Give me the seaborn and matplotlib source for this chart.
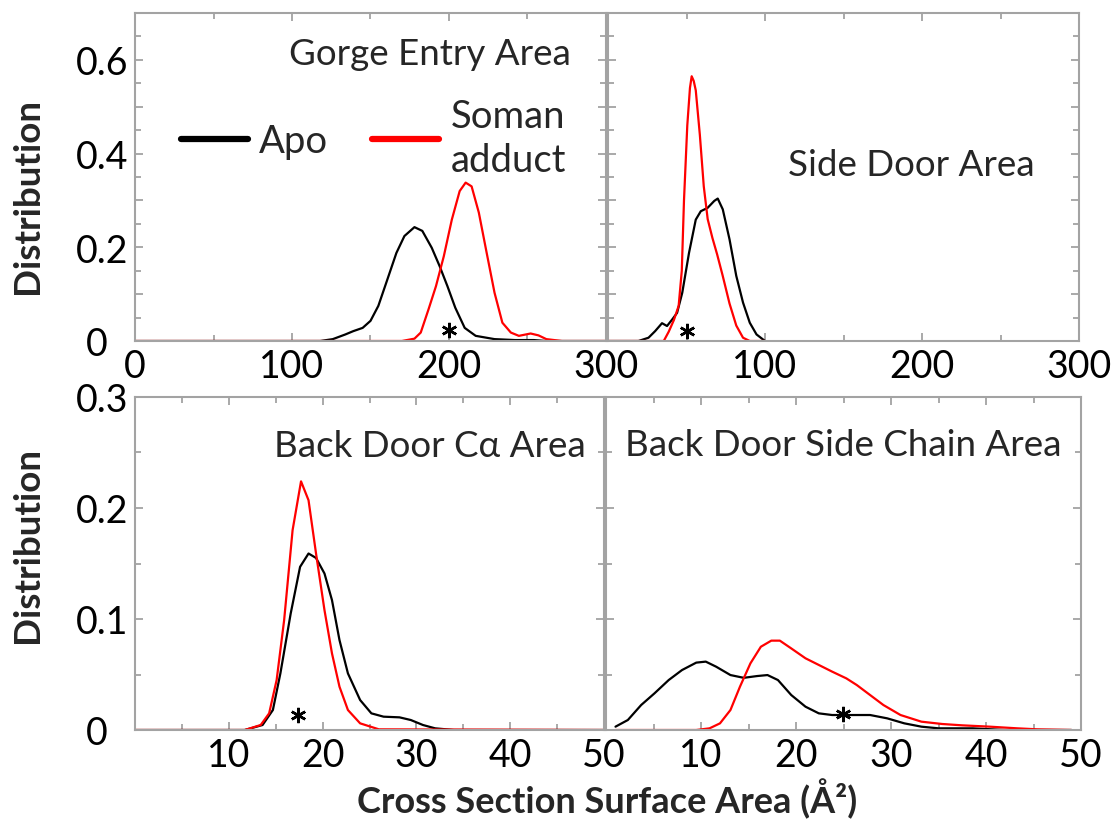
import matplotlib
matplotlib.use("Agg")
import matplotlib.pyplot as plt
from matplotlib.ticker import MultipleLocator, FuncFormatter
from matplotlib.transforms import ScaledTranslation
import numpy as np
import pandas as pd
import seaborn as sns

# ---- Gorge entry area (Å^2) ----
gorge_apo_x = [0, 118, 126, 134, 139, 145, 150, 155, 160, 166.5, 171.6, 178, 183, 189,
               194, 199, 204, 210, 217, 229, 242, 254, 262, 300]
gorge_apo_y = [0, 0, 0.004, 0.014, 0.021, 0.028, 0.043, 0.075, 0.124, 0.188, 0.224, 0.243,
               0.235, 0.199, 0.16, 0.117, 0.071, 0.028, 0.011, 0.004, 0.002, 0.002, 0, 0]
gorge_soman_x = [0, 170, 178, 182, 187, 191.7, 196.7, 201.8, 206.8, 210.6, 214.4, 219, 224,
                 229, 234, 239.4, 244.5, 252, 257, 262, 272, 300]
gorge_soman_y = [0, 0, 0.005, 0.018, 0.068, 0.117, 0.181, 0.259, 0.32, 0.338, 0.33, 0.274,
                 0.188, 0.103, 0.039, 0.018, 0.011, 0.016, 0.012, 0.004, 0, 0]

# ---- Side door area ----
side_apo_x = [0, 19.4, 25.8, 30, 34.4, 37.6, 40.9, 44, 47.3, 51.6, 55.9, 59.1, 63.4, 67.7,
              69.9, 73.1, 77.4, 81.7, 86, 90.3, 94.6, 100]
side_apo_y = [0, 0, 0.007, 0.021, 0.038, 0.032, 0.046, 0.06, 0.103, 0.188, 0.259, 0.277,
              0.284, 0.299, 0.304, 0.281, 0.217, 0.139, 0.082, 0.039, 0.014, 0]
side_soman_x = [0, 35.5, 38.7, 42, 45, 47, 48.4, 50.5, 52.2, 53.3, 54.6, 55.9, 58.5, 61,
                63.5, 66.5, 69.5, 73, 77.4, 81.7, 86, 90.3, 100]
side_soman_y = [0, 0, 0.02, 0.045, 0.075, 0.15, 0.30, 0.46, 0.54, 0.565, 0.555, 0.535,
                0.44, 0.33, 0.26, 0.22, 0.185, 0.14, 0.08, 0.033, 0.007, 0, 0]

# ---- Back door C-alpha area ----
bdca_apo_x = [0, 11.7, 13.6, 14.7, 15.5, 16.6, 17.6, 18.5, 19.3, 20.2, 21, 21.8, 22.7, 24,
              25.2, 26.5, 28.2, 29.4, 30.7, 32, 34, 50]
bdca_apo_y = [0, 0, 0.0045, 0.018, 0.051, 0.105, 0.147, 0.159, 0.155, 0.141, 0.117, 0.081,
              0.051, 0.027, 0.015, 0.012, 0.0114, 0.009, 0.0045, 0.0015, 0, 0]
bdca_soman_x = [0, 11.7, 13.4, 14.3, 15.1, 15.9, 16.8, 17.7, 18.5, 19.3, 20.2, 21, 21.8,
                22.7, 24, 26, 50]
bdca_soman_y = [0, 0, 0.0045, 0.015, 0.045, 0.099, 0.18, 0.224, 0.207, 0.159, 0.108, 0.069,
                0.039, 0.018, 0.006, 0.0006, 0]

# ---- Back door side chain area ----
bdsc_apo_x = [1, 2.3, 3.7, 5.1, 6.6, 8.0, 9.5, 10.5, 11.6, 13.1, 14.5, 15.9, 17, 18.1, 19.5,
              21, 22.4, 23.8, 26, 27.8, 29.6, 31.4, 33.2, 35, 38.6, 42, 49]
bdsc_apo_y = [0.003, 0.009, 0.0225, 0.033, 0.045, 0.054, 0.0607, 0.0616, 0.057, 0.0495,
              0.047, 0.0486, 0.0495, 0.045, 0.0315, 0.021, 0.015, 0.0135, 0.0135, 0.0135,
              0.0105, 0.006, 0.003, 0.0015, 0.0015, 0, 0]
bdsc_soman_x = [1, 9.5, 10.9, 12, 13.1, 14.1, 15.2, 16.3, 17.4, 18.3, 19.5, 21, 22.4, 23.8,
                25.3, 26.4, 27.8, 29.2, 31, 33.2, 35.4, 37.5, 40.4, 43.3, 45.4, 49]
bdsc_soman_y = [0, 0, 0.0015, 0.006, 0.018, 0.039, 0.06, 0.075, 0.0805, 0.0805, 0.0735,
                0.0646, 0.0586, 0.0526, 0.0465, 0.0405, 0.0315, 0.0225, 0.0135, 0.0075,
                0.0054, 0.0042, 0.003, 0.0015, 0.0006, 0]

panel_titles = ["Gorge Entry Area", "Side Door Area", "Back Door C\u03b1 Area",
                "Back Door Side Chain Area"]
series_names = ["Apo", "Soman adduct"]
legend_labels = ["Apo", "Soman\nadduct"]
# significance markers (x, y) in data units for each panel
star_x = [200, 50.3, 17.4, 24.9]
star_y = [0.0234, 0.021, 0.0135, 0.0144]

sns.set_style("ticks")
plt.rcParams["font.family"] = ["Lato", "DejaVu Sans"]

palette = {"Apo": "black", "Soman adduct": "#ff0000"}
spine_col = "#a3a3a3"


def frame(ax_x, ax_y, bx, by):
    return pd.concat([
        pd.DataFrame({"area": ax_x, "dist": ax_y, "system": series_names[0]}),
        pd.DataFrame({"area": bx, "dist": by, "system": series_names[1]}),
    ], ignore_index=True)


panels = [
    frame(gorge_apo_x, gorge_apo_y, gorge_soman_x, gorge_soman_y),
    frame(side_apo_x, side_apo_y, side_soman_x, side_soman_y),
    frame(bdca_apo_x, bdca_apo_y, bdca_soman_x, bdca_soman_y),
    frame(bdsc_apo_x, bdsc_apo_y, bdsc_soman_x, bdsc_soman_y),
]

W, H = 1112, 820
fig = plt.figure(figsize=(W / 100, H / 100), dpi=100)


def px_axes(x0, y0, x1, y1):
    return fig.add_axes([x0 / W, 1 - y1 / H, (x1 - x0) / W, (y1 - y0) / H])


axes = [
    px_axes(135, 14, 606, 342),
    px_axes(608, 14, 1079, 342),
    px_axes(135, 398, 604, 731),
    px_axes(606, 398, 1081, 731),
]

title_pos = [(0.626, 0.845), (0.643, 0.506), (0.629, 0.823), (0.499, 0.826)]
TITLE_FS = 26.5
TICK_FS = 27


def top_x_fmt(show_zero):
    return FuncFormatter(lambda v, p: "%d" % v if (show_zero or abs(v) > 1e-9) else "")


for i, (ax, df) in enumerate(zip(axes, panels)):
    sns.lineplot(data=df, x="area", y="dist", hue="system", hue_order=series_names,
                 palette=palette, linewidth=1.6, ax=ax, legend=(i == 0),
                 estimator=None, sort=False)
    top = i < 2
    if top:
        ax.set_xlim(0, 300)
        ax.set_ylim(0, 0.7)
        ax.xaxis.set_major_locator(MultipleLocator(100))
        ax.xaxis.set_minor_locator(MultipleLocator(50))
        # the right panel's zero would sit under the left panel's "300"
        ax.xaxis.set_major_formatter(top_x_fmt(i == 0))
        ax.yaxis.set_major_locator(MultipleLocator(0.1))
        ax.yaxis.set_minor_locator(MultipleLocator(0.05))
        ax.yaxis.set_major_formatter(FuncFormatter(
            lambda v, p: "0" if abs(v) < 1e-9 else
            ("%.1f" % v if int(round(v * 10)) % 2 == 0 else "")))
    else:
        ax.set_xlim(0, 50)
        ax.set_ylim(0, 0.3)
        ax.xaxis.set_major_locator(MultipleLocator(10))
        ax.xaxis.set_minor_locator(MultipleLocator(5))
        ax.xaxis.set_major_formatter(FuncFormatter(
            lambda v, p: "" if abs(v) < 1e-9 else "%d" % v))
        ax.yaxis.set_major_locator(MultipleLocator(0.1))
        ax.yaxis.set_minor_locator(MultipleLocator(0.05))
        ax.yaxis.set_major_formatter(FuncFormatter(
            lambda v, p: "0" if abs(v) < 1e-9 else "%.1f" % v))
    ax.set_xlabel("")
    ax.set_ylabel("")
    for s in ax.spines.values():
        s.set_color(spine_col)
        s.set_linewidth(1.5)
        s.set_visible(True)
    ax.tick_params(which="both", direction="in", top=True, right=True,
                   color=spine_col, width=1.3, labelsize=TICK_FS, labelcolor="black")
    ax.tick_params(which="major", length=6, pad=5)
    ax.tick_params(which="minor", length=4)
    if i in (1, 3):
        ax.tick_params(labelleft=False)
    ax.text(*title_pos[i], panel_titles[i], transform=ax.transAxes, ha="center",
            va="baseline", fontsize=TITLE_FS)
    ax.plot([star_x[i]], [star_y[i]], linestyle="none", marker=(6, 2, 0),
            markersize=11, markeredgewidth=1.8, color="black")

# the zero label on each left-hand y axis sits a little further out
for ax in (axes[0], axes[2]):
    locs = ax.yaxis.get_majorticklocs()
    for tick, loc in zip(ax.yaxis.get_major_ticks(), locs):
        if abs(loc) < 1e-9:
            tick.label1.set_transform(tick.label1.get_transform()
                                      + ScaledTranslation(-0.2, 0, fig.dpi_scale_trans))

# legend for the gorge panel
ax0 = axes[0]
handles, _ = ax0.get_legend_handles_labels()
leg = ax0.legend(handles, legend_labels, ncol=2, frameon=False, fontsize=27.5,
                 handlelength=1.75, handletextpad=0.3, columnspacing=1.15,
                 loc="upper left", bbox_to_anchor=(0.0977, 0.74), borderaxespad=0,
                 borderpad=0)
for h in leg.legend_handles:
    h.set_linewidth(4.5)
for t in leg.get_texts():
    t.set_linespacing(1.25)

fig.text(28 / W, 1 - 196 / H, "Distribution", rotation=90, fontweight="bold",
         fontsize=26.5, ha="center", va="center")
fig.text(28 / W, 1 - 545 / H, "Distribution", rotation=90, fontweight="bold",
         fontsize=26.5, ha="center", va="center")
fig.text(607 / W, 1 - 799 / H, "Cross Section Surface Area (\u00c5\u00b2)",
         fontweight="bold", fontsize=26, ha="center", va="center")

fig.savefig("out.png", dpi=100)
